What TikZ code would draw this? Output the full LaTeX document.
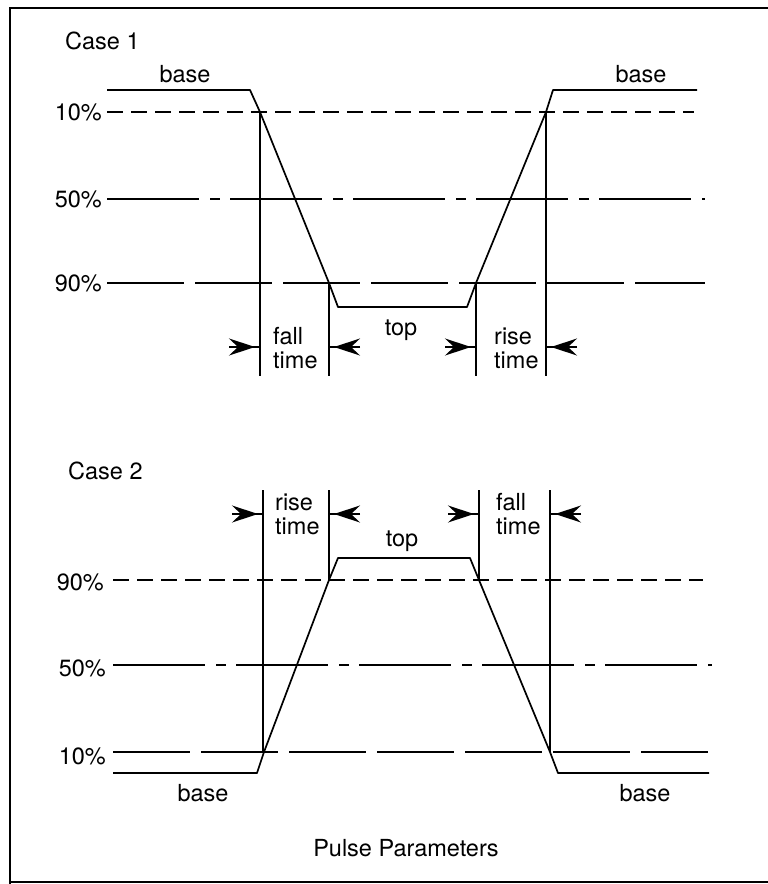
\documentclass[tikz,border=0pt]{standalone}
\usepackage{fontspec}
\setmainfont{TeX Gyre Heros}
\usetikzlibrary{arrows.meta, calc}

\begin{document}
\begin{tikzpicture}[
    x=1pt, y=-1pt,
    lbl/.style={font=\fontsize{23.5}{24}\selectfont, inner sep=0pt},
    wave/.style={line width=1.7pt, line join=round},
    edge/.style={line width=1.4pt},
    shortdash/.style={line width=1.7pt, dash pattern=on 16pt off 8pt},
    longdash/.style={line width=1.7pt, dash pattern=on 77pt off 11pt},
    dashdot/.style={line width=1.7pt, dash pattern=on 92pt off 11pt on 10pt off 10pt},
    pin/.style={line width=1.6pt, shorten <=14pt,
        postaction={draw, shorten <=0pt, shorten >=5pt, -{Stealth[length=26pt, width=17pt, inset=9pt]}}}
]
    \useasboundingbox (0,0) rectangle (768,884);

    % frame
    \draw[line width=1.4pt] (768,8) -- (10,8) -- (10,884);
    \draw[line width=1.4pt] (10,882) -- (768,882);

    % Case 1
    \node[lbl, anchor=west] (case1) at (65,41) {Case 1};
    \node[lbl] (base1l) at (185,74) {base};
    \node[lbl] (base1r) at (641,74) {base};
    \node[lbl, anchor=east] (p10a) at (102,112) {10\%};
    \node[lbl, anchor=east] (p50a) at (102,199) {50\%};
    \node[lbl, anchor=east] (p90a) at (102,283) {90\%};

    \draw[shortdash] (p10a.east) ++(5,0) -- (694,112);
    \draw[dashdot] (p50a.east) ++(5,0) -- (705,199);
    \draw[longdash] (p90a.east) ++(5,0) -- (705,283);

    \draw[wave] (107,90) -- (250,90) -- (260,112) -- (329,283) -- (338,307)
        -- (467,307) -- (476,283) -- (546,112) -- (553,90) -- (697,90);

    \coordinate (v1a) at (260,112);
    \coordinate (v1b) at (329,283);
    \coordinate (v1c) at (476,283);
    \coordinate (v1d) at (546,112);
    \foreach \v in {v1a, v1b, v1c, v1d}
        \draw[edge] (\v) -- (\v |- 0,376);

    \node[lbl] (top1) at (401,330) {top};
    \node[lbl, anchor=west, align=left] (fall1) at (273,348) {fall\\time};
    \node[lbl, anchor=west, align=left] (rise1) at (494,348) {rise\\time};

    \coordinate (a1a) at (229,347);
    \coordinate (a1b) at (360,347);
    \coordinate (a1c) at (445,347);
    \coordinate (a1d) at (577,347);
    \draw[pin] (a1a) -- (a1a -| v1a);
    \draw[pin] (a1b) -- (a1b -| v1b);
    \draw[pin] (a1c) -- (a1c -| v1c);
    \draw[pin] (a1d) -- (a1d -| v1d);

    % Case 2
    \node[lbl, anchor=west] (case2) at (68,471) {Case 2};
    \node[lbl, anchor=east] (p90b) at (104,582) {90\%};
    \node[lbl, anchor=east] (p50b) at (106,668) {50\%};
    \node[lbl, anchor=east] (p10b) at (106,756) {10\%};
    \node[lbl] (base2l) at (203,793) {base};
    \node[lbl] (base2r) at (645,793) {base};

    \draw[shortdash] (113,580) -- (703,580);
    \draw[dashdot] (113,665) -- (712,665);
    \draw[longdash] (113,752) -- (708,752);

    \draw[wave] (113,773) -- (257,773) -- (264,752) -- (329,580) -- (338,558)
        -- (470,558) -- (479,580) -- (550,752) -- (558,773) -- (709,773);

    \coordinate (v2a) at (263,752);
    \coordinate (v2b) at (329,580);
    \coordinate (v2c) at (479,580);
    \coordinate (v2d) at (550,752);
    \foreach \v in {v2a, v2b, v2c, v2d}
        \draw[edge] (\v) -- (\v |- 0,490);

    \node[lbl] (top2) at (402,541) {top};
    \node[lbl, anchor=west, align=left] (rise2) at (275,514) {rise\\time};
    \node[lbl, anchor=west, align=left] (fall2) at (496,514) {fall\\time};

    \coordinate (a2a) at (232,514);
    \coordinate (a2b) at (360,514);
    \coordinate (a2c) at (448,514);
    \coordinate (a2d) at (581,514);
    \draw[pin] (a2a) -- (a2a -| v2a);
    \draw[pin] (a2b) -- (a2b -| v2b);
    \draw[pin] (a2c) -- (a2c -| v2c);
    \draw[pin] (a2d) -- (a2d -| v2d);

    \node[lbl] (title) at (406,848) {Pulse Parameters};
\end{tikzpicture}
\end{document}
